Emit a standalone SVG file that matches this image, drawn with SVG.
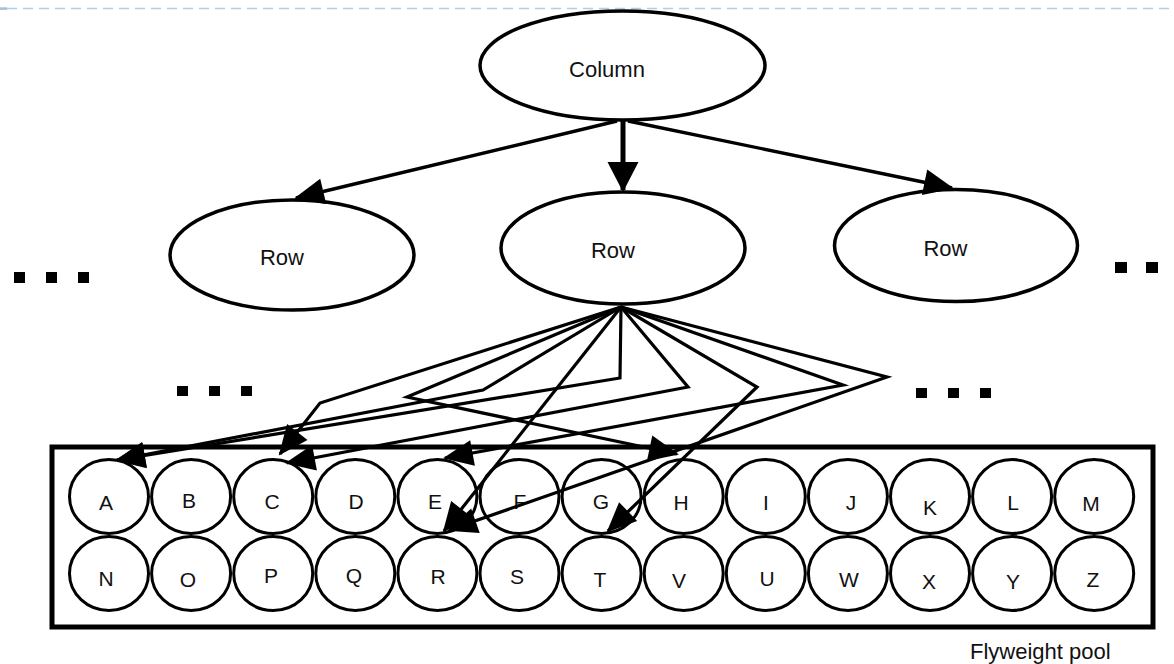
<svg xmlns="http://www.w3.org/2000/svg" width="1174" height="664" viewBox="0 0 1174 664">
<defs>
<marker id="ah" markerUnits="userSpaceOnUse" markerWidth="31" markerHeight="27" refX="28" refY="13" orient="auto" overflow="visible">
<path d="M0,0 L30,13 L0,26 z" fill="#000"/>
</marker>
<marker id="ahb" markerUnits="userSpaceOnUse" markerWidth="31" markerHeight="32" refX="28" refY="15.5" orient="auto" overflow="visible">
<path d="M0,0 L30,15.5 L0,31 z" fill="#000"/>
</marker>
</defs>
<style>
.node{fill:#fff;stroke:#000;stroke-width:3.5}
.lbl{font-family:"Liberation Sans",Arial,sans-serif;font-size:22px;fill:#111;text-anchor:middle}
.pool{fill:#fff;stroke:#000;stroke-width:5}
.ch{fill:#fff;stroke:#000;stroke-width:3}
.cl{font-family:"Liberation Sans",Arial,sans-serif;font-size:21px;fill:#111;text-anchor:middle}
.edge{fill:none;stroke:#000;stroke-width:3.2;stroke-linejoin:miter;marker-end:url(#ah)}
.dot{fill:#000}
.border{stroke:#b8cce0;stroke-width:1.5;stroke-dasharray:10 6;fill:none}
</style>
<rect width="1174" height="664" fill="#fff"/>
<g id="slide-border">
<path class="border" d="M7,8.5 H1174"/>
<rect x="0" y="7.3" width="7" height="2.6" fill="#a9bfd4"/>
</g>

<g id="column"><ellipse class="node" cx="622.5" cy="65.5" rx="142.5" ry="54.5"/><text class="lbl" x="607" y="77">Column</text></g>
<g id="row-left"><ellipse class="node" cx="292" cy="255" rx="122" ry="55"/><text class="lbl" x="282" y="265">Row</text></g>
<g id="row-middle"><ellipse class="node" cx="623" cy="248" rx="122" ry="56"/><text class="lbl" x="613" y="258">Row</text></g>
<g id="row-right"><ellipse class="node" cx="956" cy="245.5" rx="121.5" ry="56"/><text class="lbl" x="945.5" y="256">Row</text></g>

<g id="ellipsis">
<rect class="dot" x="14" y="272" width="11" height="11"/><rect class="dot" x="46" y="272" width="11" height="11"/><rect class="dot" x="78" y="272" width="11" height="11"/>
<rect class="dot" x="1115" y="262" width="12" height="11"/><rect class="dot" x="1146" y="262" width="12" height="11"/>
<rect class="dot" x="177" y="386" width="11" height="10"/><rect class="dot" x="209" y="386" width="11" height="10"/><rect class="dot" x="241" y="386" width="11" height="10"/>
<rect class="dot" x="916" y="388" width="11" height="10"/><rect class="dot" x="948" y="388" width="11" height="10"/><rect class="dot" x="980" y="388" width="11" height="10"/>
</g>

<g id="flyweight-pool">
<rect class="pool" x="52" y="447" width="1101" height="180"/>
<text class="lbl" x="970" y="659" style="text-anchor:start">Flyweight pool</text>
</g>

<g id="A"><ellipse class="ch" cx="109" cy="496.5" rx="39.5" ry="37"/><text class="cl" x="106" y="509.5">A</text></g>
<g id="B"><ellipse class="ch" cx="191.1" cy="496.5" rx="39.5" ry="37"/><text class="cl" x="189" y="507.5">B</text></g>
<g id="C"><ellipse class="ch" cx="273.2" cy="496.5" rx="39.5" ry="37"/><text class="cl" x="272" y="509">C</text></g>
<g id="D"><ellipse class="ch" cx="355.3" cy="496.5" rx="39.5" ry="37"/><text class="cl" x="356" y="509">D</text></g>
<g id="E"><ellipse class="ch" cx="437.4" cy="496.5" rx="39.5" ry="37"/><text class="cl" x="435" y="509">E</text></g>
<g id="F"><ellipse class="ch" cx="519.5" cy="496.5" rx="39.5" ry="37"/><text class="cl" x="520" y="509">F</text></g>
<g id="G"><ellipse class="ch" cx="601.6" cy="496.5" rx="39.5" ry="37"/><text class="cl" x="601" y="509">G</text></g>
<g id="H"><ellipse class="ch" cx="683.7" cy="496.5" rx="39.5" ry="37"/><text class="cl" x="681" y="510">H</text></g>
<g id="I"><ellipse class="ch" cx="765.8" cy="496.5" rx="39.5" ry="37"/><text class="cl" x="766" y="510">I</text></g>
<g id="J"><ellipse class="ch" cx="847.9" cy="496.5" rx="39.5" ry="37"/><text class="cl" x="851" y="510">J</text></g>
<g id="K"><ellipse class="ch" cx="930" cy="496.5" rx="39.5" ry="37"/><text class="cl" x="930" y="515">K</text></g>
<g id="L"><ellipse class="ch" cx="1012.1" cy="496.5" rx="39.5" ry="37"/><text class="cl" x="1013" y="510">L</text></g>
<g id="M"><ellipse class="ch" cx="1094.2" cy="496.5" rx="39.5" ry="37"/><text class="cl" x="1091" y="511">M</text></g>

<g id="N"><ellipse class="ch" cx="109" cy="573.5" rx="39.5" ry="37"/><text class="cl" x="106" y="586">N</text></g>
<g id="O"><ellipse class="ch" cx="191.1" cy="573.5" rx="39.5" ry="37"/><text class="cl" x="188" y="586.5">O</text></g>
<g id="P"><ellipse class="ch" cx="273.2" cy="573.5" rx="39.5" ry="37"/><text class="cl" x="271" y="582.5">P</text></g>
<g id="Q"><ellipse class="ch" cx="355.3" cy="573.5" rx="39.5" ry="37"/><text class="cl" x="354" y="582.5">Q</text></g>
<g id="R"><ellipse class="ch" cx="437.4" cy="573.5" rx="39.5" ry="37"/><text class="cl" x="438" y="584">R</text></g>
<g id="S"><ellipse class="ch" cx="519.5" cy="573.5" rx="39.5" ry="37"/><text class="cl" x="517" y="584">S</text></g>
<g id="T"><ellipse class="ch" cx="601.6" cy="573.5" rx="39.5" ry="37"/><text class="cl" x="600" y="587">T</text></g>
<g id="V"><ellipse class="ch" cx="683.7" cy="573.5" rx="39.5" ry="37"/><text class="cl" x="679" y="588">V</text></g>
<g id="U"><ellipse class="ch" cx="765.8" cy="573.5" rx="39.5" ry="37"/><text class="cl" x="767" y="586">U</text></g>
<g id="W"><ellipse class="ch" cx="847.9" cy="573.5" rx="39.5" ry="37"/><text class="cl" x="849" y="587">W</text></g>
<g id="X"><ellipse class="ch" cx="930" cy="573.5" rx="39.5" ry="37"/><text class="cl" x="929" y="589">X</text></g>
<g id="Y"><ellipse class="ch" cx="1012.1" cy="573.5" rx="39.5" ry="37"/><text class="cl" x="1013" y="589">Y</text></g>
<g id="Z"><ellipse class="ch" cx="1094.2" cy="573.5" rx="39.5" ry="37"/><text class="cl" x="1093" y="587">Z</text></g>

<g id="connectors">
<path class="edge" d="M617,121 L296,198" style="stroke-width:3.4"/>
<path d="M623,121 L623,190" style="fill:none;stroke:#000;stroke-width:5;marker-end:url(#ahb)"/>
<path class="edge" d="M628,121 L952,188" style="stroke-width:3.4"/>
<path class="edge" d="M621,307 L320,403 L280,454"/>
<path class="edge" d="M621,307 L407,397 L677,454"/>
<path class="edge" d="M621,307 L483,390 L117,460"/>
<path class="edge" d="M621,307 L444,531"/>
<path class="edge" d="M621,307 L620,378 L117,460"/>
<path class="edge" d="M621,307 L688,387 L287,463"/>
<path class="edge" d="M621,307 L757,387 L608,531"/>
<path class="edge" d="M621,307 L843,385 L445,458"/>
<path class="edge" d="M621,307 L887,377 L449,530"/>
</g>
</svg>
